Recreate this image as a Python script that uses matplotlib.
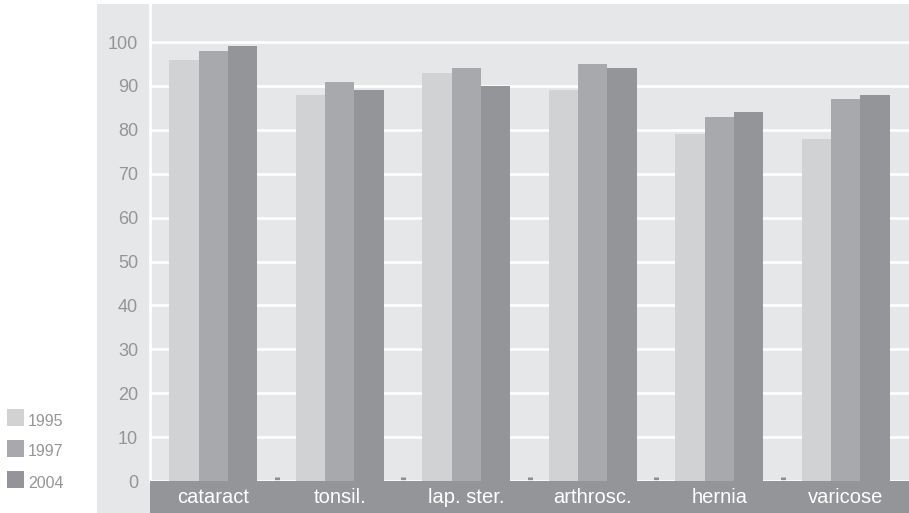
import matplotlib
matplotlib.use("Agg")
import matplotlib.pyplot as plt
from matplotlib.patches import Rectangle

categories = ["cataract", "tonsil.", "lap. ster.", "arthrosc.", "hernia", "varicose"]
years = ["1995", "1997", "2004"]
v1995 = [96, 88, 93, 89, 79, 78]
v1997 = [98, 91, 94, 95, 83, 87]
v2004 = [99, 89, 90, 94, 84, 88]
series = [v1995, v1997, v2004]
colors = ["#d1d2d4", "#a7a9ac", "#939598"]

BG = "#e6e7e8"
TXT = "#939598"
W, H = 909, 513
plt.rcParams["font.family"] = ["Liberation Sans", "DejaVu Sans"]

fig = plt.figure(figsize=(W / 100, H / 100), dpi=100)
fig.patch.set_facecolor("white")

def px_axes(x0, y0, x1, y1, **kw):
    # pixel coords with top-left origin
    return fig.add_axes([x0 / W, 1 - y1 / H, (x1 - x0) / W, (y1 - y0) / H], **kw)

# light gray backdrop
bg = px_axes(97, 4, W, H)
bg.set_facecolor(BG)
bg.set_xticks([]); bg.set_yticks([])
for s in bg.spines.values():
    s.set_visible(False)

# main axes
ax = px_axes(150, 4, W, 481)
ax.set_facecolor(BG)
ppu = 4.39
ax.set_ylim(0, 477 / ppu)
ax.set_xlim(-0.5, len(categories) - 0.5)
ax.set_axisbelow(True)
ax.yaxis.grid(True, color="white", linewidth=1.9)
ax.set_yticks(range(0, 101, 10))
ax.tick_params(axis="y", length=0, pad=8.5, labelsize=13, labelcolor=TXT)
for s in ["top", "right", "bottom"]:
    ax.spines[s].set_visible(False)
ax.spines["left"].set_color("white")
ax.spines["left"].set_linewidth(2.0)

bw = 0.2317
for i, (vals, c) in enumerate(zip(series, colors)):
    xs = [k + (i - 1) * bw for k in range(len(categories))]
    ax.bar(xs, vals, width=bw, color=c, linewidth=0, zorder=3)

ax.set_xticks([k + 0.5 for k in range(len(categories) - 1)])
ax.set_xticklabels([])
ax.tick_params(axis="x", direction="in", length=3.2, width=3.6, color="#8e8f92")

# bottom band with category labels
band = px_axes(150, 481, W, H)
band.set_facecolor("#939598")
band.set_xlim(-0.5, len(categories) - 0.5)
band.set_ylim(0, 1)
band.set_xticks([]); band.set_yticks([])
for s in band.spines.values():
    s.set_visible(False)
for k, cat in enumerate(categories):
    band.text(k, 0.47, cat, color="white", fontsize=14.5, ha="center", va="center")

# legend (outside, left)
ys = [409, 440, 471]
for yr, c, y in zip(years, colors, ys):
    fig.patches.append(Rectangle((7 / W, 1 - (y + 17) / H), 17 / W, 17 / H,
                                 transform=fig.transFigure, facecolor=c,
                                 edgecolor="none"))
    fig.text(28 / W, 1 - (y + 19.5) / H, yr, color=TXT, fontsize=11.5,
             ha="left", va="bottom")

fig.savefig("out.png", dpi=100)
